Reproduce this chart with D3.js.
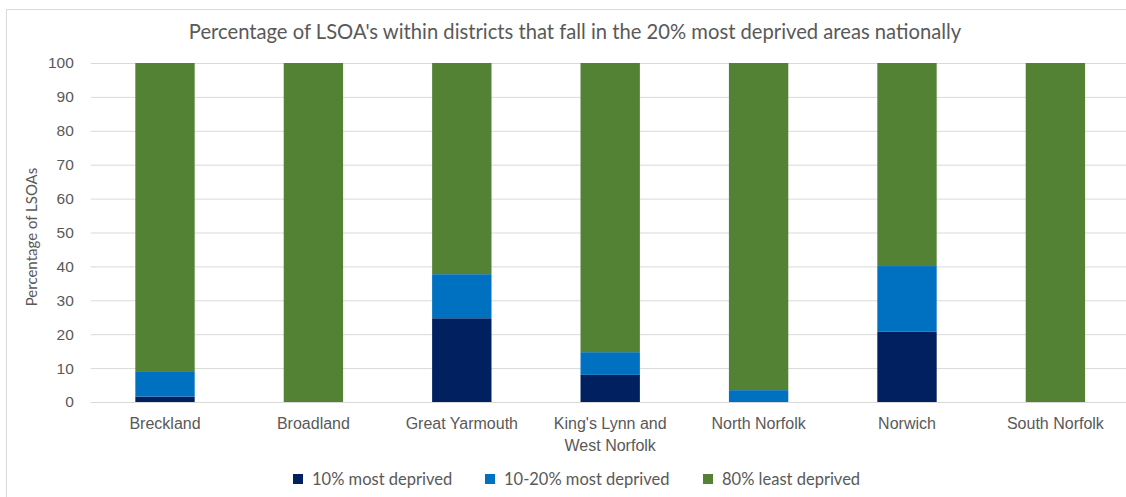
<!DOCTYPE html>
<html><head><meta charset="utf-8">
<script src="https://cdn.jsdelivr.net/npm/d3@7"></script>
<style>body{margin:0;background:#fff;} svg{display:block;font-family:Lato,"Open Sans",sans-serif;}</style>
</head><body><svg id="c" width="1126" height="497"></svg>
<script>
const categories = ["Breckland","Broadland","Great Yarmouth","King's Lynn and West Norfolk","North Norfolk","Norwich","South Norfolk"];
const seriesNames = ["10% most deprived","10-20% most deprived","80% least deprived"];
const mostDeprived10 = [1.6, 0, 24.7, 8.0, 0, 20.7, 0];
const deprived10to20 = [7.5, 0, 13.0, 6.7, 3.5, 19.4, 0];
const leastDeprived80 = [90.9, 100, 62.3, 85.3, 96.5, 59.9, 100];
const yTicks = [0,10,20,30,40,50,60,70,80,90,100];
const colors = ["#002060","#0070C0","#548235"];

const svg = d3.select("#c");
svg.append("rect").attr("x",6.5).attr("y",9.5).attr("width",1130).attr("height",500)
  .attr("fill","#fff").attr("stroke","#d9d9d9");

const pLeft = 90.8, pRight = 1129.6, pTop = 63, pBottom = 402;
const x = d3.scaleBand().domain(categories).range([pLeft,pRight]).paddingInner(0.6).paddingOuter(0.3);
const y = d3.scaleLinear().domain([0,100]).range([pBottom, pTop]);

const yAxis = d3.axisLeft(y).tickValues(yTicks).tickSize(-(pRight-pLeft)).tickPadding(12);
const gy = svg.append("g").attr("transform",`translate(${pLeft},0)`).call(yAxis);
gy.select(".domain").remove();
gy.selectAll(".tick line").attr("stroke","#d9d9d9").attr("stroke-width",1);
gy.selectAll(".tick text").attr("fill","#595959").style("font-size","15.5px").attr("x",-17);

const rows = categories.map((c,i)=>({cat:c, a:mostDeprived10[i], b:deprived10to20[i], c:leastDeprived80[i]}));
const stack = d3.stack().keys(["a","b","c"])(rows);
svg.append("g").selectAll("g").data(stack).join("g").attr("fill",(d,i)=>colors[i])
  .selectAll("rect").data(d=>d).join("rect")
  .attr("x",d=>x(d.data.cat)).attr("width",x.bandwidth())
  .attr("y",d=>y(d[1])).attr("height",d=>Math.max(0,y(d[0])-y(d[1])));

const xAxis = d3.axisBottom(x).tickSize(0).tickPadding(16);
const gx = svg.append("g").attr("transform",`translate(0,${pBottom})`).call(xAxis);
gx.select(".domain").attr("stroke","#d9d9d9").attr("d",`M${pLeft},0.5H${pRight}`);
gx.selectAll(".tick text").attr("fill","#595959").style("font-size","16px").each(function(d){
  const t = d3.select(this);
  if (d === "King's Lynn and West Norfolk") {
    t.text(null);
    t.append("tspan").attr("x",0).attr("dy","0.71em").text("King's Lynn and");
    t.append("tspan").attr("x",0).attr("dy","1.33em").text("West Norfolk");
    t.attr("dy",null);
  }
});

svg.append("text").attr("x",575).attr("y",39).attr("text-anchor","middle")
  .attr("fill","#595959").style("font-size","20.2px")
  .text("Percentage of LSOA's within districts that fall in the 20% most deprived areas nationally");

svg.append("text").attr("transform","translate(37,237) rotate(-90)").attr("text-anchor","middle")
  .attr("fill","#595959").style("font-size","15px").text("Percentage of LSOAs");

const legX = [293, 485, 703];
const lg = svg.append("g").selectAll("g").data(seriesNames).join("g")
  .attr("transform",(d,i)=>`translate(${legX[i]},474)`);
lg.append("rect").attr("width",10).attr("height",10).attr("fill",(d,i)=>colors[i]);
lg.append("text").attr("x",19).attr("y",10.5).attr("fill","#595959").style("font-size","16.5px").text(d=>d);
</script></body></html>
